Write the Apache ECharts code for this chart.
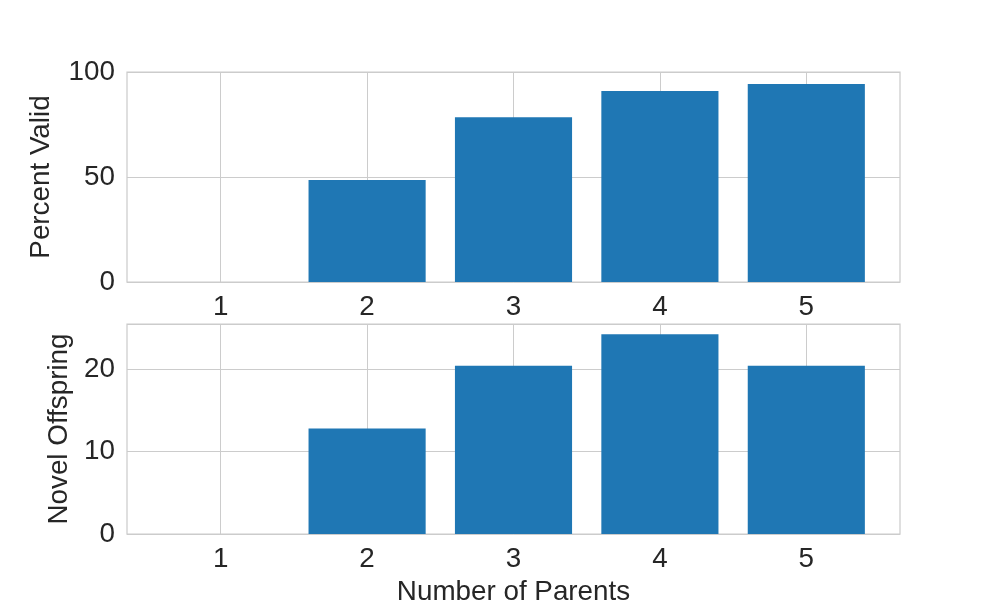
<!DOCTYPE html>
<html>
<head>
<meta charset="utf-8">
<script src="https://cdn.jsdelivr.net/npm/echarts@6/dist/echarts.min.js"></script>
<style>
  html, body { margin: 0; padding: 0; background: #fff; }
  #chart { width: 1000px; height: 600px; }
</style>
</head>
<body>
<div id="chart"></div>
<script>
// number of parents on the x axis
const parents = [1, 2, 3, 4, 5];
// top panel: percent of valid offspring
const percentValid = [0, 48.6, 78.5, 90.9, 94.3];
// bottom panel: novel offspring count
const novelOffspring = [0, 12.8, 20.4, 24.2, 20.4];

const textColor = '#262626';
const gridColor = '#cccccc';
const font = 'Liberation Sans';
const fontSize = 27.8;

function xAxisFor(gridIndex, withName) {
  return {
    type: 'value',
    gridIndex: gridIndex,
    min: 0.36,
    max: 5.64,
    axisLine: { show: false },
    axisTick: { show: false, customValues: parents },
    axisLabel: { fontSize: fontSize, color: textColor, fontFamily: font, margin: 11, customValues: parents },
    splitLine: { show: true, lineStyle: { color: gridColor, width: 1 } },
    name: withName ? 'Number of Parents' : '',
    nameLocation: 'middle',
    nameGap: 44,
    nameTextStyle: { fontSize: fontSize, color: textColor, fontFamily: font }
  };
}

function yAxisFor(gridIndex, name, max, interval, gap) {
  return {
    type: 'value',
    gridIndex: gridIndex,
    min: 0,
    max: max,
    interval: interval,
    axisLine: { show: false },
    axisTick: { show: false },
    axisLabel: { fontSize: fontSize, color: textColor, fontFamily: font, margin: 12, showMaxLabel: max % interval === 0 },
    splitLine: { show: true, lineStyle: { color: gridColor, width: 1 } },
    name: name,
    nameLocation: 'middle',
    nameGap: gap,
    nameTextStyle: { fontSize: fontSize, color: textColor, fontFamily: font }
  };
}

function pairs(values) {
  return parents.map((p, i) => [p, values[i]]);
}

// both panels share the same horizontal extent
const panel = { left: 127, right: 100, height: 210, show: true, borderColor: gridColor, borderWidth: 1.25, backgroundColor: 'transparent', outerBoundsMode: 'none', containLabel: false };

const chart = echarts.init(document.getElementById('chart'));
const option = {
  animation: false,
  backgroundColor: '#ffffff',
  grid: [
    Object.assign({ top: 72 }, panel),
    Object.assign({ top: 324 }, panel)
  ],
  xAxis: [xAxisFor(0, false), xAxisFor(1, true)],
  yAxis: [
    yAxisFor(0, 'Percent Valid', 100, 50, 72),
    yAxisFor(1, 'Novel Offspring', 25.45, 10, 54)
  ],
  series: [
    {
      type: 'bar',
      xAxisIndex: 0,
      yAxisIndex: 0,
      data: pairs(percentValid),
      barWidth: '80%',
      itemStyle: { color: '#1f77b4' }
    },
    {
      type: 'bar',
      xAxisIndex: 1,
      yAxisIndex: 1,
      data: pairs(novelOffspring),
      barWidth: '80%',
      itemStyle: { color: '#1f77b4' }
    }
  ]
};
chart.setOption(option);
</script>
</body>
</html>
